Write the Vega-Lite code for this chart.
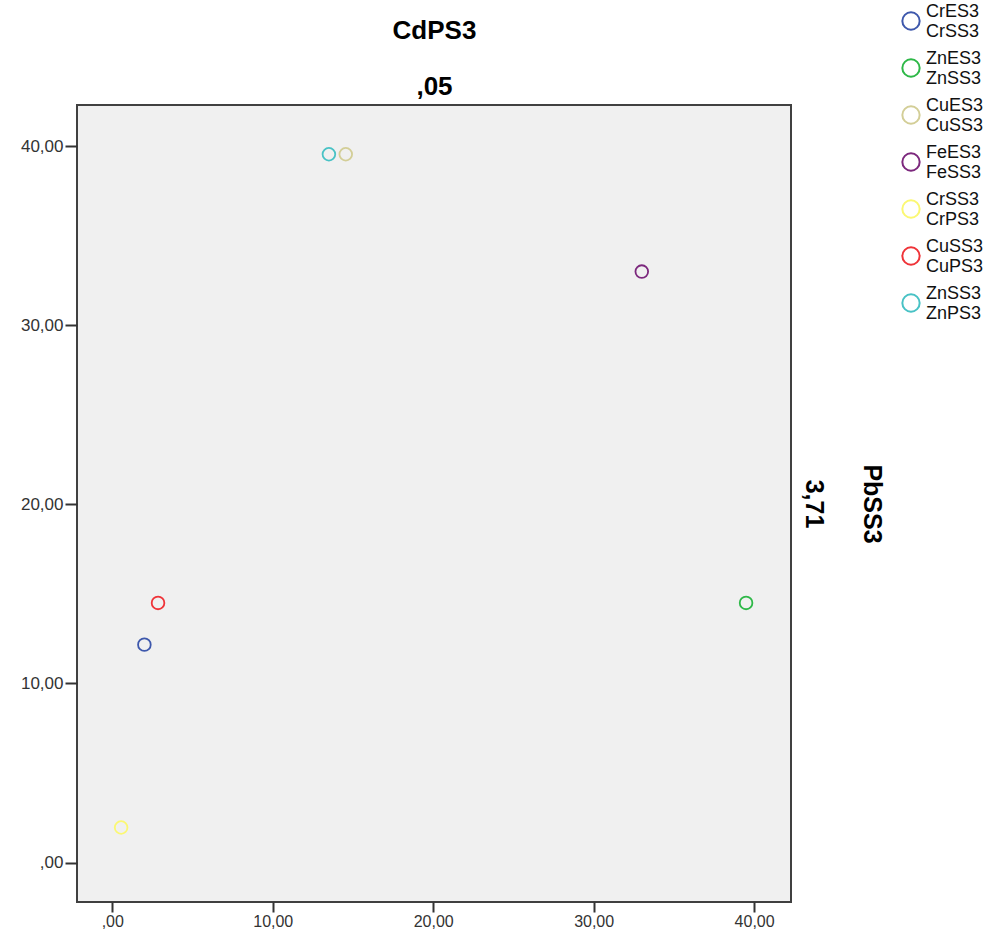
{
  "$schema": "https://vega.github.io/schema/vega-lite/v6.json",
  "width": 714,
  "height": 797,
  "autosize": "none",
  "padding": {"left": 77, "top": 105, "right": 208, "bottom": 42},
  "background": "white",
  "config": {
    "view": {"fill": "#f0f0f0", "stroke": "#404040", "strokeWidth": 2},
    "font": "Liberation Sans"
  },
  "data": {
    "values": [
      {"s": "CrES3|CrSS3", "x": 2.0, "y": 12.17},
      {"s": "ZnES3|ZnSS3", "x": 39.5, "y": 14.5},
      {"s": "CuES3|CuSS3", "x": 14.55, "y": 39.55},
      {"s": "FeES3|FeSS3", "x": 33.0, "y": 33.0},
      {"s": "CrSS3|CrPS3", "x": 0.55, "y": 1.96},
      {"s": "CuSS3|CuPS3", "x": 2.85, "y": 14.5},
      {"s": "ZnSS3|ZnPS3", "x": 13.5, "y": 39.55}
    ]
  },
  "layer": [
    {
      "mark": {"type": "point", "shape": "circle", "filled": false, "size": 160, "strokeWidth": 1.8, "opacity": 1},
      "encoding": {
        "x": {
          "field": "x", "type": "quantitative",
          "scale": {"domain": [-2.2, 42.3], "nice": false, "zero": false},
          "axis": {
            "values": [0, 10, 20, 30, 40],
            "labelExpr": "datum.value == 0 ? ',00' : replace(format(datum.value, '.2f'), '.', ',')",
            "labelFontSize": 16, "labelColor": "#333333", "labelPadding": 1,
            "tickColor": "#333333", "tickSize": 10, "tickWidth": 2,
            "domain": false, "grid": false, "title": null
          }
        },
        "y": {
          "field": "y", "type": "quantitative",
          "scale": {"domain": [-2.2, 42.3], "nice": false, "zero": false},
          "axis": {
            "values": [0, 10, 20, 30, 40],
            "labelExpr": "datum.value == 0 ? ',00' : replace(format(datum.value, '.2f'), '.', ',')",
            "labelFontSize": 17, "labelColor": "#333333", "labelPadding": 2,
            "tickColor": "#333333", "tickSize": 12, "tickWidth": 2,
            "domain": false, "grid": false, "title": null
          }
        },
        "color": {
          "field": "s", "type": "nominal",
          "scale": {
            "domain": ["CrES3|CrSS3", "ZnES3|ZnSS3", "CuES3|CuSS3", "FeES3|FeSS3", "CrSS3|CrPS3", "CuSS3|CuPS3", "ZnSS3|ZnPS3"],
            "range": ["#3E58AC", "#2EB848", "#D3CE97", "#7C287D", "#FBF873", "#EF3338", "#48C2C5"]
          },
          "legend": {
            "orient": "none", "legendX": 824, "legendY": -94,
            "title": null,
            "symbolType": "circle", "symbolSize": 300, "symbolStrokeWidth": 2,
            "labelFontSize": 18, "labelColor": "#111111", "labelLimit": 0,
            "labelBaseline": "bottom",
            "labelExpr": "[split(datum.label, '|')[0], '\u00a0\u00a0' + split(datum.label, '|')[1]]",
            "rowPadding": 9, "labelOffset": 5
          }
        }
      }
    },
    {
      "mark": {"type": "point", "opacity": 0},
      "encoding": {
        "x": {
          "field": "x", "type": "quantitative",
          "scale": {"domain": [-2.2, 42.3], "nice": false, "zero": false},
          "axis": {
            "orient": "top", "ticks": false, "labels": false, "domain": false, "grid": false,
            "title": ["CdPS3", ",05"],
            "titleFontSize": 26, "titleFontWeight": "bold", "titleColor": "black",
            "titleLineHeight": 56, "titlePadding": 6
          }
        },
        "y": {
          "field": "y", "type": "quantitative",
          "scale": {"domain": [-2.2, 42.3], "nice": false, "zero": false},
          "axis": {
            "orient": "right", "ticks": false, "labels": false, "domain": false, "grid": false,
            "title": ["PbSS3", "3,71"],
            "titleFontSize": 25, "titleFontWeight": "bold", "titleColor": "black",
            "titleAngle": 90, "titleLineHeight": 58, "titlePadding": 9
          }
        }
      }
    }
  ],
  "resolve": {"scale": {"y": "independent", "x": "independent"}}
}
